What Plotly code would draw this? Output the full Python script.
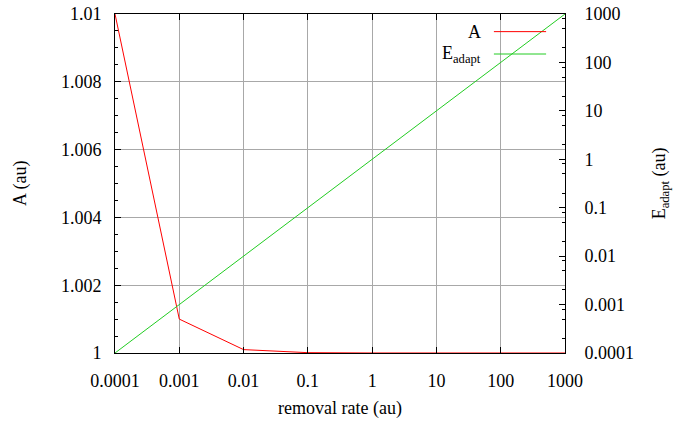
import plotly.graph_objects as go

# removal rate sweep (log-spaced)
removal_rate = [0.0001, 0.001, 0.01, 0.1, 1, 10, 100, 1000]
# amplitude A (left axis)
A_values = [1.01, 1.001, 1.0001, 1.00001, 1.000001, 1.0000001, 1.00000001, 1.000000001]
# adaptation energy (right axis, log)
E_adapt = [0.0001, 0.001, 0.01, 0.1, 1, 10, 100, 1000]

left_tickvals = [1.0, 1.002, 1.004, 1.006, 1.008, 1.01]
left_ticktext = ["1", "1.002", "1.004", "1.006", "1.008", "1.01"]
log_tickvals = [0.0001, 0.001, 0.01, 0.1, 1, 10, 100, 1000]
log_ticktext = ["0.0001", "0.001", "0.01", "0.1", "1", "10", "100", "1000"]

FONT = "Liberation Serif, DejaVu Serif, serif"
FS = 18
RED = "#ff0000"
GREEN = "#22cc22"
GRID = "#a8a8a8"

# minor ticks at 2, 5, 8 of each decade on the log axis
y2_minor = [m * d for d in log_tickvals[:-1] for m in (2, 5, 8)]

fig = go.Figure()
fig.add_trace(go.Scatter(x=removal_rate, y=A_values, mode="lines",
                         line=dict(color=RED, width=1), yaxis="y",
                         showlegend=False))
fig.add_trace(go.Scatter(x=removal_rate, y=E_adapt, mode="lines",
                         line=dict(color=GREEN, width=1), yaxis="y2",
                         showlegend=False))

axis_common = dict(showline=True, linecolor="black", linewidth=1,
                   ticks="inside", tickcolor="black", ticklen=6,
                   tickfont=dict(family=FONT, size=FS, color="black"),
                   zeroline=False, automargin=False)

fig.update_layout(
    template="none",
    width=675, height=421,
    margin=dict(l=115, r=110, t=14, b=68),
    paper_bgcolor="white", plot_bgcolor="white",
    showlegend=False,
    font=dict(family=FONT, size=FS, color="black"),
    xaxis=dict(type="log", range=[-4, 3], tickvals=log_tickvals,
               ticktext=log_ticktext, mirror="ticks", showgrid=True,
               gridcolor=GRID, gridwidth=1, ticklabelstandoff=11,
               **axis_common),
    yaxis=dict(range=[1.0, 1.01], tickvals=left_tickvals,
               ticktext=left_ticktext, showgrid=True, gridcolor=GRID,
               gridwidth=1, ticklabelstandoff=9,
               minor=dict(dtick=0.0005, tick0=1.0, ticks="inside",
                          ticklen=3, tickcolor="black", showgrid=False),
               **axis_common),
    yaxis2=dict(type="log", range=[-4, 3], overlaying="y", side="right",
                tickvals=log_tickvals, ticktext=log_ticktext,
                showgrid=False, ticklabelstandoff=15,
                minor=dict(tickmode="array", tickvals=y2_minor,
                           ticks="inside", ticklen=3, tickcolor="black",
                           showgrid=False),
                **axis_common),
)

title_font = dict(family=FONT, size=FS, color="black")
annotations = [
    dict(text="removal rate (au)", x=0.5, y=-0.163, xref="paper",
         yref="paper", xanchor="center", yanchor="middle",
         showarrow=False, font=title_font),
    dict(text="A (au)", x=-0.21, y=0.5, xref="paper", yref="paper",
         xanchor="center", yanchor="middle", textangle=-90,
         showarrow=False, font=title_font),
    dict(text="E<sub>adapt</sub> (au)", x=1.213, y=0.5, xref="paper",
         yref="paper", xanchor="center", yanchor="middle", textangle=-90,
         showarrow=False, font=title_font),
    # key labels
    dict(text="A", x=0.818, y=0.948, xref="paper", yref="paper",
         xanchor="right", yanchor="middle", showarrow=False,
         font=title_font),
    dict(text="E<sub>adapt</sub>", x=0.818, y=0.882, xref="paper",
         yref="paper", xanchor="right", yanchor="middle",
         showarrow=False, font=title_font),
]
fig.update_layout(annotations=annotations)

# key sample lines
fig.add_shape(type="line", xref="paper", yref="paper", x0=0.842, x1=0.958,
              y0=0.948, y1=0.948, line=dict(color=RED, width=1))
fig.add_shape(type="line", xref="paper", yref="paper", x0=0.842, x1=0.958,
              y0=0.882, y1=0.882, line=dict(color=GREEN, width=1))

fig.write_html("out.html")
